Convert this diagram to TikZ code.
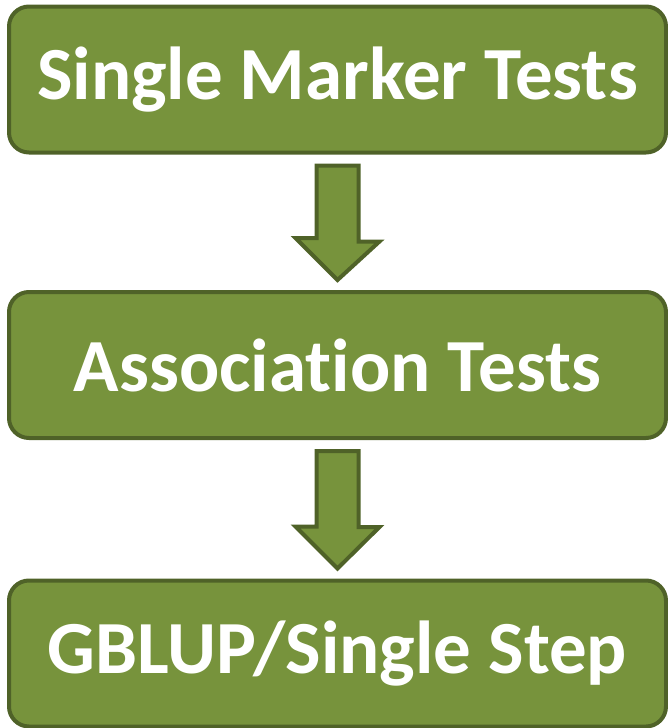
\documentclass[tikz,border=0pt]{standalone}
\usepackage{fontspec}
\setmainfont{Carlito}[Ligatures=NoCommon]
\usetikzlibrary{positioning,calc}
\definecolor{olivefill}{HTML}{77933C}
\definecolor{oliveline}{HTML}{4F6228}

\begin{document}
\begin{tikzpicture}[x=1pt,y=-1pt,
    stepbox/.style={draw=oliveline,fill=olivefill,line width=4pt,rounded corners=20pt,
      minimum width=657pt,minimum height=146pt,text=white,font=\bfseries\fontsize{75}{80}\selectfont},
    blockarrow/.style={draw=oliveline,fill=olivefill,line width=4pt,line join=miter}]
            \useasboundingbox (0,0) rectangle (667,728);
            \node[stepbox] (single) at (337.5,79.5) {Single Marker Tests};
            \node[stepbox] (assoc) at (337.5,365) {Association Tests};
            \node[stepbox] (gblup) at (337.5,653.5) {GBLUP/Single Step};
            \foreach \a/\b in {single/assoc,assoc/gblup}{
              \draw[blockarrow] ($(\a.south)+(-21,11)$) -- ++(42,0) -- ++(0,76) -- ++(21,0)
                -- ($(\b.north)+(0,-10)$) -- ++(-42,-42) -- ++(21,0) -- cycle;
            }
        \end{tikzpicture}
\end{document}
